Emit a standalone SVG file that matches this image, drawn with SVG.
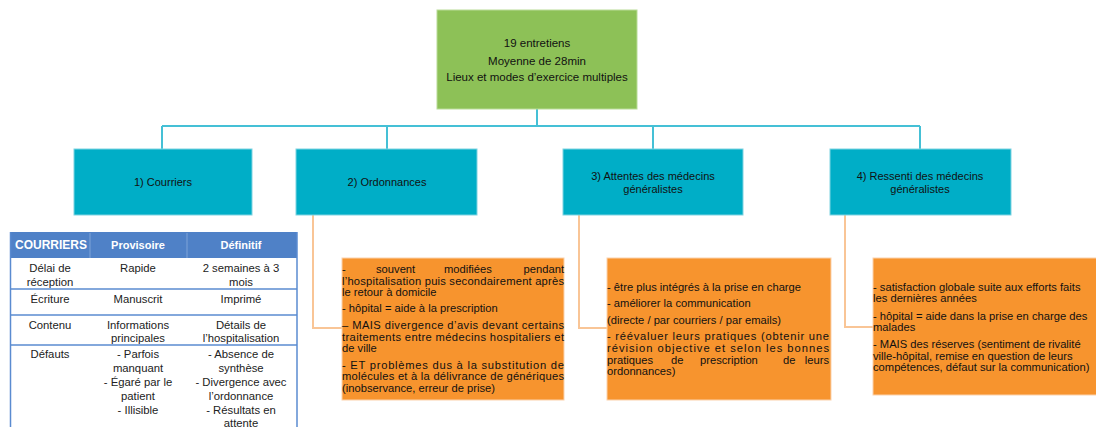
<svg xmlns="http://www.w3.org/2000/svg" width="1096" height="427" viewBox="0 0 1096 427">
<style>
text{font-family:"Liberation Sans",Arial,sans-serif;fill:#111}
.t{font-size:11px;text-anchor:middle}
.g{font-size:11.5px;text-anchor:middle}
.o{font-size:11.2px}
.c{font-size:11.3px;text-anchor:middle;fill:#222}
.h{font-weight:bold;fill:#fff;text-anchor:middle}
.teal{fill:#00AEC7;stroke:#7FD3E1;stroke-width:1}
.org{fill:#F7942E;stroke:#FBD2AC;stroke-width:1}
.lk{fill:none;stroke:#45C0D6;stroke-width:2}
.lo{fill:none;stroke:#F9C596;stroke-width:2}
.rl{stroke:#5A8BD0;stroke-width:1.5}
</style>
<rect width="1096" height="427" fill="#fff"/>
<g id="connectors">
<path class="lk" d="M537 109V126M162 126H920M162 126V149M387 126V149M653 126V149M920 126V149"/>
<path class="lo" d="M313 215V328H342M579 215V328H607M845 215V327H873"/>
</g>
<g id="root">
<rect x="437" y="10" width="200" height="99" fill="#8DC157" stroke="#B9DC98" stroke-width="1"/>
<text class="g" x="537" y="47">19 entretiens</text>
<text class="g" x="537" y="65">Moyenne de 28min</text>
<text class="g" x="537" y="81">Lieux et modes d’exercice multiples</text>
</g>
<g id="n1">
<rect class="teal" x="74" y="149" width="178" height="66"/>
<text class="t" x="163" y="186">1) Courriers</text>
</g>
<g id="n2">
<rect class="teal" x="296" y="149" width="181" height="66"/>
<text class="t" x="387" y="186">2) Ordonnances</text>
</g>
<g id="n3">
<rect class="teal" x="563" y="149" width="180" height="66"/>
<text class="t" x="653" y="180">3) Attentes des médecins</text>
<text class="t" x="653" y="193">généralistes</text>
</g>
<g id="n4">
<rect class="teal" x="830" y="149" width="181" height="66"/>
<text class="t" x="920" y="180">4) Ressenti des médecins</text>
<text class="t" x="920" y="193">généralistes</text>
</g>
<g id="table">
<rect x="10" y="232" width="287" height="26" fill="#4F81C7"/>
<line x1="90" y1="233" x2="90" y2="258" stroke="#7FA3D8" stroke-width="1"/>
<line x1="187" y1="233" x2="187" y2="258" stroke="#7FA3D8" stroke-width="1"/>
<line class="rl" x1="10.5" y1="232" x2="10.5" y2="427"/>
<line class="rl" x1="297" y1="232" x2="297" y2="427"/>
<line class="rl" x1="10" y1="289" x2="297" y2="289"/>
<line class="rl" x1="10" y1="315" x2="297" y2="315"/>
<line class="rl" x1="10" y1="345" x2="297" y2="345"/>
<text class="h" x="51" y="249" font-size="12">COURRIERS</text>
<text class="h" x="138" y="249" font-size="11">Provisoire</text>
<text class="h" x="241" y="249" font-size="11">Définitif</text>
<text class="c" x="50" y="272">Délai de</text>
<text class="c" x="50" y="286">réception</text>
<text class="c" x="138" y="272">Rapide</text>
<text class="c" x="241" y="272">2 semaines à 3</text>
<text class="c" x="241" y="286">mois</text>
<text class="c" x="50" y="303">Écriture</text>
<text class="c" x="138" y="303">Manuscrit</text>
<text class="c" x="241" y="303">Imprimé</text>
<text class="c" x="50" y="329">Contenu</text>
<text class="c" x="138" y="329">Informations</text>
<text class="c" x="138" y="342">principales</text>
<text class="c" x="241" y="329">Détails de</text>
<text class="c" x="241" y="342">l’hospitalisation</text>
<text class="c" x="50" y="358">Défauts</text>
<text class="c" x="138" y="358">- Parfois</text>
<text class="c" x="138" y="372">manquant</text>
<text class="c" x="138" y="386">- Égaré par le</text>
<text class="c" x="138" y="400">patient</text>
<text class="c" x="138" y="414">- Illisible</text>
<text class="c" x="241" y="358">- Absence de</text>
<text class="c" x="241" y="372">synthèse</text>
<text class="c" x="241" y="386">- Divergence avec</text>
<text class="c" x="241" y="400">l’ordonnance</text>
<text class="c" x="241" y="414">- Résultats en</text>
<text class="c" x="241" y="427">attente</text>
</g>
<g id="o2">
<rect class="org" x="342" y="258" width="222" height="142"/>
<text class="o" y="273"><tspan x="342">-</tspan><tspan x="376">souvent</tspan><tspan x="444">modifiées</tspan><tspan x="564" text-anchor="end">pendant</tspan></text>
<text class="o" x="342" y="285" textLength="222" lengthAdjust="spacing">l’hospitalisation puis secondairement après</text>
<text class="o" x="342" y="296">le retour à domicile</text>
<text class="o" x="342" y="312">- hôpital = aide à la prescription</text>
<text class="o" x="342" y="329" textLength="222" lengthAdjust="spacing">– MAIS divergence d’avis devant certains</text>
<text class="o" x="342" y="341" textLength="222" lengthAdjust="spacing">traitements entre médecins hospitaliers et</text>
<text class="o" x="342" y="352">de ville</text>
<text class="o" x="342" y="369" textLength="222" lengthAdjust="spacing">- ET problèmes dus à la substitution de</text>
<text class="o" x="342" y="380" textLength="222" lengthAdjust="spacing">molécules et à la délivrance de génériques</text>
<text class="o" x="342" y="392">(inobservance, erreur de prise)</text>
</g>
<g id="o3">
<rect class="org" x="607" y="258" width="224" height="142"/>
<text class="o" x="607" y="291">- être plus intégrés à la prise en charge</text>
<text class="o" x="607" y="307">- améliorer la communication</text>
<text class="o" x="607" y="324">(directe / par courriers / par emails)</text>
<text class="o" x="607" y="340" textLength="222" lengthAdjust="spacing">- réévaluer leurs pratiques (obtenir une</text>
<text class="o" x="607" y="352" textLength="222" lengthAdjust="spacing">révision objective et selon les bonnes</text>
<text class="o" y="364"><tspan x="607">pratiques</tspan><tspan x="671">de</tspan><tspan x="700">prescription</tspan><tspan x="783">de</tspan><tspan x="829" text-anchor="end">leurs</tspan></text>
<text class="o" x="607" y="375">ordonnances)</text>
</g>
<g id="o4">
<rect class="org" x="873" y="258" width="224" height="137"/>
<text class="o" x="873" y="291">- satisfaction globale suite aux efforts faits</text>
<text class="o" x="873" y="302">les dernières années</text>
<text class="o" x="873" y="320">- hôpital = aide dans la prise en charge des</text>
<text class="o" x="873" y="331">malades</text>
<text class="o" x="873" y="348">- MAIS des réserves (sentiment de rivalité</text>
<text class="o" x="873" y="360">ville-hôpital, remise en question de leurs</text>
<text class="o" x="873" y="371">compétences, défaut sur la communication)</text>
</g>
</svg>
